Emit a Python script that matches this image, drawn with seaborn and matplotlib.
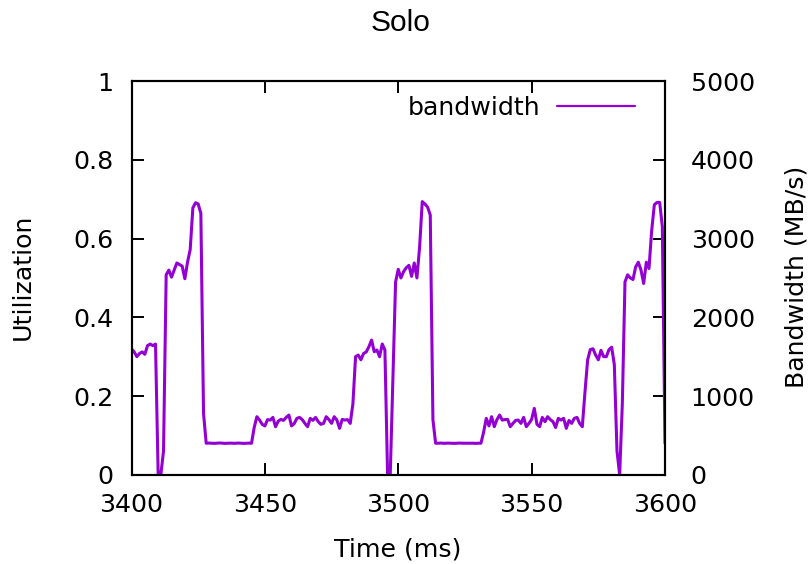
import matplotlib
matplotlib.use("Agg")
import matplotlib.pyplot as plt
import seaborn as sns
import pandas as pd

# ---- data ----
time_ms = list(range(3400, 3601))

bandwidth = [
    # 3400-3428
    1600, 1560, 1500, 1540, 1560, 1530, 1640, 1660, 1640, 1660,
    0, 0, 300, 2540, 2600, 2510, 2600, 2690, 2670, 2650,
    2490, 2700, 2860, 3390, 3456, 3440, 3320, 780, 400,
    # 3429-3445
    402, 400, 398, 400, 403, 400, 398, 400, 401, 400,
    399, 402, 400, 398, 400, 401, 400,
    # 3446
    600,
    # 3447-3482
    737, 694, 640, 620, 700, 694, 728, 610, 680, 703,
    690, 728, 758, 620, 650, 716, 728, 700, 652, 610,
    716, 690, 728, 674, 640, 652, 737, 700, 652, 737,
    694, 589, 703, 694, 700, 652,
    # 3483
    900,
    # 3484-3495
    1500, 1520, 1460, 1540, 1560, 1626, 1711, 1563, 1584, 1499, 1661, 1584,
    # 3496-3499
    0, 0, 1200, 2450,
    # 3500-3508
    2610, 2500, 2580, 2630, 2660, 2520, 2690, 2500, 2890,
    # 3509-3514
    3470, 3440, 3400, 3300, 700, 400,
    # 3515-3531
    400, 402, 399, 400, 401, 400, 398, 400, 402, 400,
    400, 399, 401, 400, 398, 400, 400,
    # 3532
    540,
    # 3533-3569
    716, 620, 737, 610, 700, 758, 694, 700, 703, 610,
    652, 690, 694, 652, 728, 610, 652, 703, 843, 640,
    610, 728, 674, 737, 700, 674, 600, 716, 694, 716,
    589, 690, 652, 716, 728, 652, 610,
    # 3570-3600
    1050, 1460, 1590, 1600, 1520, 1460, 1580, 1500, 1500, 1590,
    1620, 1400, 300, 0, 900, 2450, 2540, 2500, 2480, 2640,
    2700, 2600, 2430, 2700, 2620, 3100, 3430, 3460, 3460, 3150,
    400,
]
assert len(bandwidth) == len(time_ms), (len(bandwidth), len(time_ms))

x_ticks = [3400, 3450, 3500, 3550, 3600]
util_ticks = [0, 0.2, 0.4, 0.6, 0.8, 1]
util_labels = ["0", "0.2", "0.4", "0.6", "0.8", "1"]
bw_ticks = [0, 1000, 2000, 3000, 4000, 5000]
bw_labels = ["0", "1000", "2000", "3000", "4000", "5000"]

df = pd.DataFrame({"time": time_ms, "bw": bandwidth})

# ---- style ----
sns.set_style("white")
plt.rcParams["font.family"] = ["DejaVu Sans"]
plt.rcParams["text.color"] = "black"
plt.rcParams["axes.labelcolor"] = "black"
FS = 18.2

W, H = 812, 564
fig = plt.figure(figsize=(W / 100, H / 100), dpi=100)
L, R, B, T = 131.5, 665.0, 474.7, 81.2
ax1 = fig.add_axes([L / W, 1 - B / H, (R - L) / W, (B - T) / H])
ax2 = ax1.twinx()

sns.lineplot(data=df, x="time", y="bw", ax=ax2, color="#9400d3",
             linewidth=2.2, label="bandwidth", errorbar=None)

ax1.set_xlim(3400, 3600)
ax1.set_ylim(0, 1)
ax2.set_ylim(0, 5000)
ax1.set_xticks(x_ticks)
ax1.set_xticklabels([str(v) for v in x_ticks])
ax1.set_yticks(util_ticks)
ax1.set_yticklabels(util_labels)
ax2.set_yticks(bw_ticks)
ax2.set_yticklabels(bw_labels)
ax2.set_xlabel("")
ax2.set_ylabel("")
ax1.set_xlabel("")
ax1.set_ylabel("")

for ax in (ax1, ax2):
    for s in ax.spines.values():
        s.set_linewidth(1.5)
        s.set_color("black")
        s.set_visible(True)

ax1.tick_params(axis="x", which="both", direction="in", top=True, bottom=True,
                length=8.4, width=1.4, labelsize=FS, pad=13.5, colors="black")
ax1.tick_params(axis="y", direction="in", left=True, right=False,
                length=8.4, width=1.4, labelsize=FS, pad=13, colors="black")
ax2.tick_params(axis="y", direction="in", left=False, right=True,
                length=8.4, width=1.4, labelsize=FS, pad=18.5, colors="black")
ax2.tick_params(axis="x", top=False, bottom=False, labeltop=False, labelbottom=False)

leg = ax2.legend(loc="center right",
                 bbox_to_anchor=((635 - L) / (R - L), (B - 108) / (B - T)),
                 frameon=False, markerfirst=False, fontsize=FS,
                 handlelength=3.1, handletextpad=0.65,
                 borderpad=0, borderaxespad=0)
for h in leg.get_lines():
    h.set_linewidth(1.6)
for t in leg.get_texts():
    t.set_color("black")

fig.text(401 / W, 1 - 23 / H, "Solo", ha="center", va="center",
         fontsize=21.5, color="black", family=["Liberation Sans", "DejaVu Sans"])
fig.text(398 / W, 1 - 550 / H, "Time (ms)", ha="center", va="center",
         fontsize=FS, color="black")
fig.text(23 / W, 1 - 277 / H, "Utilization", ha="center", va="center",
         rotation=90, fontsize=FS, color="black")
fig.text(797 / W, 1 - 277 / H, "Bandwidth (MB/s)", ha="center", va="center",
         rotation=90, fontsize=FS, color="black")

fig.savefig("out.png", dpi=100, facecolor="white")
